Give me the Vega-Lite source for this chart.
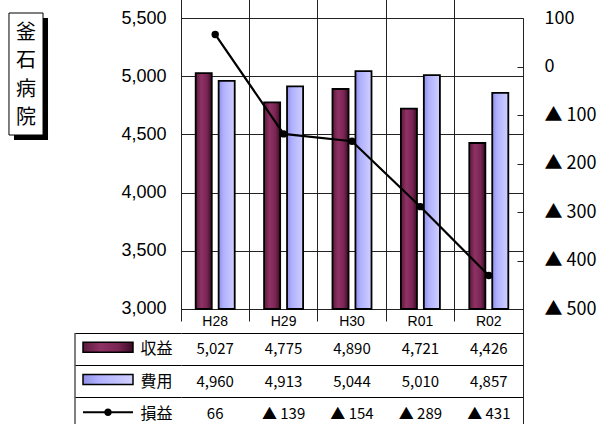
{
  "$schema": "https://vega.github.io/schema/vega-lite/v6.json",
  "width": 342,
  "height": 412,
  "autosize": {"type": "none"},
  "padding": {"left": 181, "top": 18, "right": 75, "bottom": 0},
  "background": "white",
  "config": {
    "locale": {"number": {"decimal": ".", "thousands": ",", "grouping": [3], "currency": ["", ""], "minus": "▲ "}},
    "font": "Liberation Sans, Noto Sans CJK JP, sans-serif",
    "view": {"stroke": null},
    "axis": {"labelFont": "Liberation Sans, Noto Sans CJK JP, sans-serif", "labelColor": "black", "labelFlush": false, "labelOverlap": false},
    "axisX": {"offset": -109, "domain": false, "ticks": false, "labelPadding": 0, "labelBaseline": "middle", "labelAlign": "center", "bandPosition": 0, "grid": true, "gridColor": "#222", "gridWidth": 1, "gridOpacity": 1, "labelFontSize": 14, "labelAngle": 0}
  },
  "data": {"values": [
    {"year": "H28", "収益": 5027, "費用": 4960, "損益": 66},
    {"year": "H29", "収益": 4775, "費用": 4913, "損益": -139},
    {"year": "H30", "収益": 4890, "費用": 5044, "損益": -154},
    {"year": "R01", "収益": 4721, "費用": 5010, "損益": -289},
    {"year": "R02", "収益": 4426, "費用": 4857, "損益": -431}
  ]},
  "layer": [
    {
      "layer": [
        {
          "mark": {"type": "bar", "stroke": "black", "strokeWidth": 1.8,
            "fill": {"gradient": "linear", "x1": 0, "x2": 1, "y1": 0, "y2": 0, "stops": [
              {"offset": 0, "color": "#5c1a3c"}, {"offset": 0.35, "color": "#8f3265"}, {"offset": 0.7, "color": "#7a2554"}, {"offset": 1, "color": "#3a0b24"}]}},
          "encoding": {
            "x": {"field": "year", "type": "nominal", "title": null, "scale": {"type": "band", "domain": ["H28", "H29", "H30", "R01", "R02"], "paddingInner": 0, "paddingOuter": 0}},
            "xOffset": {"datum": "収益", "scale": {"domain": ["収益", "費用"], "paddingInner": 0.3, "paddingOuter": 0.64}},
            "y": {"field": "収益", "type": "quantitative", "title": null,
              "scale": {"domain": [1960.48, 5500], "zero": false, "nice": false},
              "axis": {"orient": "left", "values": [3000, 3500, 4000, 4500, 5000, 5500], "format": ",.0f", "grid": true, "gridColor": "#222", "gridOpacity": 1, "domain": false, "ticks": false, "labelPadding": 15, "labelFontSize": 18, "title": null}},
            "y2": {"datum": 3000}
          }
        },
        {
          "mark": {"type": "bar", "stroke": "black", "strokeWidth": 1.8,
            "fill": {"gradient": "linear", "x1": 0, "x2": 1, "y1": 0, "y2": 0, "stops": [
              {"offset": 0, "color": "#8f8fe6"}, {"offset": 0.3, "color": "#b0b0ff"}, {"offset": 1, "color": "#d0d0ff"}]}},
          "encoding": {
            "x": {"field": "year", "type": "nominal", "title": null},
            "xOffset": {"datum": "費用"},
            "y": {"field": "費用", "type": "quantitative", "title": null},
            "y2": {"datum": 3000}
          }
        },
        {
          "data": {"values": [{"name": "釜石病院"}]},
          "mark": {"type": "point", "shape": "M-0.279,-1H0.279V1H-0.279Z", "size": 14884, "filled": true, "fill": "black", "strokeWidth": 0, "opacity": 1},
          "encoding": {
            "x": {"datum": "H28", "bandPosition": -2.193},
            "y": {"datum": 4975.9}
          }
        },
        {
          "data": {"values": [{"name": "釜石病院"}]},
          "mark": {"type": "point", "shape": "M-0.279,-1H0.279V1H-0.279Z", "size": 14884, "filled": true, "fill": "white", "stroke": "black", "strokeWidth": 1, "opacity": 1},
          "encoding": {
            "x": {"datum": "H28", "bandPosition": -2.2661},
            "y": {"datum": 5018.9}
          }
        },
        {
          "data": {"values": [{"name": "釜石病院"}]},
          "mark": {"type": "text", "fontSize": 20, "lineHeight": 28.3, "font": "Noto Sans CJK JP", "baseline": "middle", "align": "center", "color": "black"},
          "encoding": {
            "x": {"datum": "H28", "bandPosition": -2.2661},
            "y": {"datum": 5371},
            "text": {"value": ["釜", "石", "病", "院"]}
          }
        }
      ]
    },
    {
      "mark": {"type": "line", "color": "black", "strokeWidth": 2.2, "point": {"filled": true, "size": 55, "color": "black"}},
      "encoding": {
        "x": {"field": "year", "type": "nominal", "title": null},
        "y": {"field": "損益", "type": "quantitative", "title": null,
          "scale": {"domain": [-749.48, 100], "zero": false, "nice": false},
          "axis": {"orient": "right", "values": [-500, -400, -300, -200, -100, 0, 100], "format": ",.0f", "grid": false, "domain": true, "domainColor": "#222", "ticks": true, "tickSize": -6, "tickColor": "#222", "labelPadding": 27, "labelFontSize": 18, "labelFont": "Noto Sans CJK JP", "labelAlign": "left", "title": null}}
      }
    },
    {
      "layer": [
        {
          "transform": [{"fold": ["収益", "費用", "損益"], "as": ["series", "value"]}],
          "mark": {"type": "text", "fontSize": 15, "font": "Noto Sans CJK JP", "baseline": "middle", "align": "center", "color": "black"},
          "encoding": {
            "x": {"field": "year", "type": "nominal", "title": null},
            "y": {"field": "series", "type": "nominal", "title": null,
              "scale": {"type": "band", "domain": ["収益", "費用", "損益"], "paddingInner": 0, "paddingOuter": 0, "range": [315, 412]},
              "axis": {"orient": "left", "bandPosition": 0, "domain": false, "ticks": true, "tickSize": 106, "tickColor": "black", "grid": true, "gridColor": "black", "gridOpacity": 1, "labelPadding": -97, "labelAlign": "right", "labelBaseline": "middle", "labelFontSize": 16, "labelFont": "Noto Sans CJK JP", "title": null}},
            "text": {"field": "value", "type": "quantitative", "format": ","}
          }
        },
        {
          "data": {"values": [{"name": "border"}]},
          "mark": {"type": "rule", "color": "black", "strokeWidth": 1},
          "encoding": {
            "x": {"datum": "H28", "bandPosition": -1.5497},
            "y": {"datum": "収益", "bandPosition": 0},
            "y2": {"datum": "損益", "bandPosition": 1}
          }
        },
        {
          "data": {"values": [{"series": "収益"}]},
          "mark": {"type": "point", "shape": "M-1,-0.2H1V0.2H-1Z", "size": 2500, "filled": true, "stroke": "black", "strokeWidth": 1.5, "opacity": 1,
            "fill": {"gradient": "linear", "x1": 0, "x2": 1, "y1": 0, "y2": 0, "stops": [
              {"offset": 0, "color": "#5c1a3c"}, {"offset": 0.35, "color": "#8f3265"}, {"offset": 0.7, "color": "#7a2554"}, {"offset": 1, "color": "#3a0b24"}]}},
          "encoding": {
            "x": {"datum": "H28", "bandPosition": -1.0673},
            "y": {"field": "series", "type": "nominal", "bandPosition": 0.44}
          }
        },
        {
          "data": {"values": [{"series": "費用"}]},
          "mark": {"type": "point", "shape": "M-1,-0.2H1V0.2H-1Z", "size": 2500, "filled": true, "stroke": "black", "strokeWidth": 1.5, "opacity": 1,
            "fill": {"gradient": "linear", "x1": 0, "x2": 1, "y1": 0, "y2": 0, "stops": [
              {"offset": 0, "color": "#8f8fe6"}, {"offset": 0.3, "color": "#b0b0ff"}, {"offset": 1, "color": "#d0d0ff"}]}},
          "encoding": {
            "x": {"datum": "H28", "bandPosition": -1.0673},
            "y": {"field": "series", "type": "nominal", "bandPosition": 0.44}
          }
        },
        {
          "data": {"values": [{"series": "損益"}]},
          "mark": {"type": "point", "shape": "M-1,-0.04H1V0.04H-1Z M0.15,0A0.15,0.15,0,1,1,-0.15,0A0.15,0.15,0,1,1,0.15,0Z", "size": 2500, "filled": true, "fill": "black", "strokeWidth": 0, "opacity": 1},
          "encoding": {
            "x": {"datum": "H28", "bandPosition": -1.0673},
            "y": {"field": "series", "type": "nominal", "bandPosition": 0.45}
          }
        }
      ]
    }
  ],
  "resolve": {"scale": {"y": "independent"}}
}
